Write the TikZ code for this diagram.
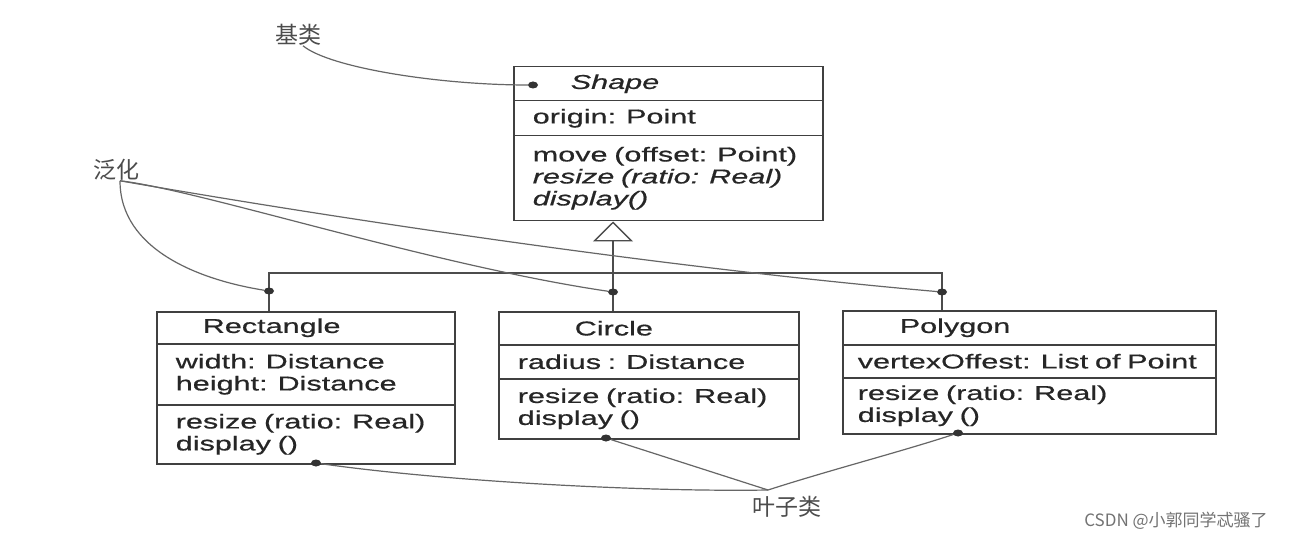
\documentclass[tikz,border=0pt]{standalone}
\usepackage{fontspec}
\usetikzlibrary{arrows.meta,shapes.geometric}
\newfontfamily\umlfont[FakeStretch=1.53, FakeBold=0.6]{Liberation Sans}
\newfontfamily\cjkfont{Noto Sans CJK SC}

\tikzstyle{cpart}=[draw=black!75, line width=1.5pt, inner xsep=19pt, inner ysep=0pt, align=left, anchor=north west, font=\umlfont\fontsize{20}{22}\selectfont, text=black!85]
\tikzstyle{note}=[font=\cjkfont\fontsize{23}{23}\selectfont, text=black!70, inner sep=0pt]
\tikzstyle{wmark}=[font=\cjkfont\fontsize{17}{17}\selectfont, text=black!55, inner sep=0pt]
\tikzstyle{ann}=[draw=black!60, line width=1.2pt]
\tikzstyle{link}=[draw=black!70, line width=1.4pt]
\tikzstyle{gen}=[link, -{Triangle[open, width=40pt, length=20pt]}]
\tikzstyle{dotm}=[ellipse, fill=black!80, inner sep=0pt, minimum width=10pt, minimum height=7pt]

\begin{document}
\begin{tikzpicture}[x=1pt, y=-1pt]
        \useasboundingbox[fill=white] (0,0) rectangle (1293,540);

        % base class
        \draw (513,66)  node[cpart, minimum width=309pt, minimum height=34pt, text width=271pt](stitle){\hspace*{38pt}\itshape Shape};
        \draw (513,100) node[cpart, minimum width=309pt, minimum height=35pt, text width=271pt](sattr){origin: Point};
        \draw (513,135) node[cpart, minimum width=309pt, minimum height=85pt, text width=271pt](smeth){move (offset: Point)\\{\itshape resize (ratio: Real)}\\{\itshape display()}};
        % leaf classes
        \draw (156,311) node[cpart, minimum width=298pt, minimum height=32pt, text width=260pt](rtitle){\hspace*{27pt}Rectangle};
        \draw (156,343) node[cpart, minimum width=298pt, minimum height=61pt, text width=260pt](rattr){width: Distance\\height: Distance};
        \draw (156,404) node[cpart, minimum width=298pt, minimum height=59pt, text width=260pt](rmeth){resize (ratio: Real)\\display ()};
        \draw (498,311) node[cpart, minimum width=300pt, minimum height=33pt, text width=262pt](ctitle){\hspace*{57pt}Circle};
        \draw (498,344) node[cpart, minimum width=300pt, minimum height=34pt, text width=262pt](cattr){radius : Distance};
        \draw (498,378) node[cpart, minimum width=300pt, minimum height=60pt, text width=262pt](cmeth){resize (ratio: Real)\\display ()};
        \draw (842,310) node[cpart, inner xsep=15pt, minimum width=373pt, minimum height=34pt, text width=343pt](ptitle){\hspace*{42pt}Polygon};
        \draw (842,344) node[cpart, inner xsep=15pt, minimum width=373pt, minimum height=33pt, text width=343pt](pattr){vertexOffest: List of Point};
        \draw (842,377) node[cpart, inner xsep=15pt, minimum width=373pt, minimum height=56pt, text width=343pt](pmeth){resize (ratio: Real)\\display ()};
        %
        \coordinate (hub)  at (613,273);
        \coordinate (rtop) at (269,311);
        \coordinate (ctop) at (613,311);
        \coordinate (ptop) at (942,310);
        \draw[link] (rtop) |- (hub) -| (ptop);
        \draw[link] (ctop) -- (hub);
        \draw[gen]  (hub) -- (hub |- smeth.south);
        %
        \draw (533,85)  node[dotm](bdot){};
        \draw (269,291) node[dotm](rdot){};
        \draw (613,292) node[dotm](cdot){};
        \draw (942,292) node[dotm](pdot){};
        \draw (316,463) node[dotm](rbot){};
        \draw (606,438) node[dotm](cbot){};
        \draw (958,433) node[dotm](pbot){};
        %
        \draw (298,35)  node[note](jilei){基类};
        \draw (116,170) node[note](fanhua){泛化};
        \draw (787,507) node[note](yezi){叶子类};
        \draw (1176,521) node[wmark](wm){CSDN @小郭同学忒骚了};
        \coordinate (vtip) at (768,490);
        %
        \draw[ann] ([xshift=5pt]jilei.south) .. controls (330,68) and (440,85) .. (bdot);
        \draw[ann] ([xshift=4pt]fanhua.south) .. controls (120,250) and (200,280) .. (rdot);
        \draw[ann] ([xshift=4pt]fanhua.south) .. controls (200,190) and (430,265) .. (cdot);
        \draw[ann] ([xshift=4pt]fanhua.south) .. controls (230,200) and (600,262) .. (pdot);
        \draw[ann] (rbot) .. controls (450,482) and (650,492) .. (vtip);
        \draw[ann] (cbot) -- (vtip);
        \draw[ann] (pbot) .. controls (900,452) and (830,470) .. (vtip);
\end{tikzpicture}
\end{document}
